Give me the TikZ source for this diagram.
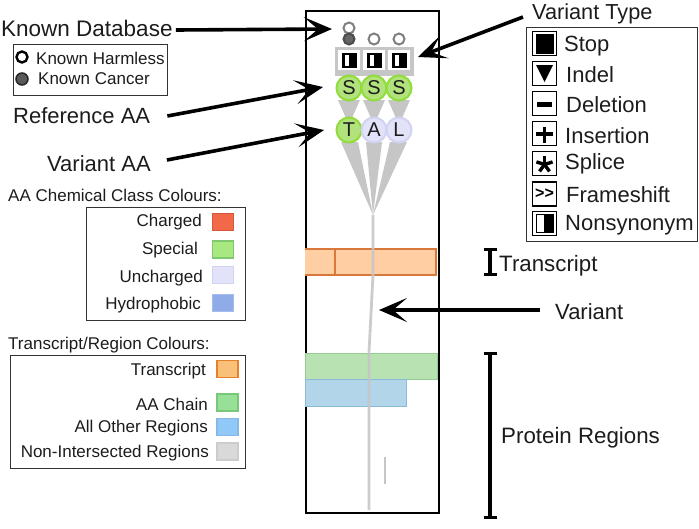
\documentclass[tikz,border=0pt]{standalone}
\usepackage{fontspec}
\setmainfont{Liberation Sans}
\usetikzlibrary{arrows.meta, positioning}

\definecolor{txt}{HTML}{1C1C1C}
\definecolor{branch}{HTML}{C6C6C6}
\definecolor{specfill}{HTML}{B2E27C}
\definecolor{specline}{HTML}{8FDC3C}
\definecolor{unchfill}{HTML}{E2E2F8}
\definecolor{unchline}{HTML}{D2D2F2}
\definecolor{transfill}{HTML}{FFCFA3}
\definecolor{transline}{HTML}{D9783A}
\definecolor{chainfill}{HTML}{B9E2B2}
\definecolor{chainline}{HTML}{94CC96}
\definecolor{regfill}{HTML}{B2D5EA}
\definecolor{regline}{HTML}{8ABAD8}
\definecolor{chargedkey}{HTML}{F2694A}
\definecolor{chargededge}{HTML}{D8583C}
\definecolor{specialkey}{HTML}{A8E880}
\definecolor{specialedge}{HTML}{80C870}
\definecolor{hydrokey}{HTML}{90ACE8}
\definecolor{hydroedge}{HTML}{A8BCEC}
\definecolor{transkey}{HTML}{F8C078}
\definecolor{transedge}{HTML}{E8802A}
\definecolor{chainkey}{HTML}{98E098}
\definecolor{chainedge}{HTML}{78C878}
\definecolor{otherkey}{HTML}{90C8F8}
\definecolor{otheredge}{HTML}{88B8E8}

\tikzset{
    big/.style={font=\fontsize{22}{24}\selectfont, text=txt, inner sep=0pt},
    mid/.style={font=\fontsize{22}{24}\selectfont, text=txt, inner sep=0pt, anchor=west},
    small/.style={font=\fontsize{17}{20}\selectfont, text=txt, inner sep=0pt},
    legendbox/.style={draw=black!80, line width=1pt},
    pointer/.style={line width=3.6pt, -{Stealth[length=28pt, width=24pt, inset=14pt]}},
    span/.style={line width=3.4pt, {Bar[width=13pt, line width=3pt]}-{Bar[width=13pt, line width=3pt]}},
    swatch/.style={minimum width=21pt, minimum height=17pt, inner sep=0pt, line width=1.2pt},
    aa/.style={circle, minimum size=25pt, inner sep=0pt, line width=2pt, font=\fontsize{20}{20}\selectfont, text=txt},
    special/.style={aa, fill=specfill, draw=specline},
    uncharged/.style={aa, fill=unchfill, draw=unchline},
    known/.style={circle, minimum size=11pt, inner sep=0pt, draw=black!50, line width=2pt, fill=white},
    typebox/.style={draw=black, line width=1.6pt, minimum size=24pt, inner sep=0pt, fill=white},
    cell/.style={fill=white, minimum width=22pt, minimum height=20pt, inner sep=0pt},
    regionbar/.style={line width=0.6pt},
}

\begin{document}
\begin{tikzpicture}[x=1pt, y=-1pt]
    \useasboundingbox (0,0) rectangle (699,528);

    % gene panel
    \node[draw=black, line width=1.6pt, minimum width=133pt, minimum height=502pt, inner sep=0pt, anchor=north west] (panel) at (305,10) {};

    % bars
    \fill[transfill] (305,249) rectangle (437,275);
    \draw[draw=transline, line width=1.6pt] (305,249) -- (436,249) -- (436,275) -- (305,275) (335,249) -- (335,275);
    \node[regionbar, fill=chainfill, draw=chainline, minimum width=132pt, minimum height=26pt, inner sep=0pt, anchor=north west] (aachain) at (305,353) {};
    \node[regionbar, fill=regfill, draw=regline, minimum width=101pt, minimum height=27pt, inner sep=0pt, anchor=north west] (otherregion) at (305,379) {};

    % branches from the variant position
    \coordinate (apex) at (373,215);
    \fill[branch] (341,142) -- (358,142) -- (apex) -- cycle;
    \fill[branch] (366,142) -- (382,142) -- (apex) -- cycle;
    \fill[branch] (390,142) -- (407,142) -- (apex) -- cycle;
    \fill[branch] (338,100) -- (360,100) -- (349,125) -- cycle;
    \fill[branch] (363,100) -- (385,100) -- (374,125) -- cycle;
    \fill[branch] (388,100) -- (410,100) -- (399,125) -- cycle;
    \draw[branch, line width=2.8pt, opacity=0.9] (apex) -- (373,275) -- (369,352) -- (369,510);
    \draw[branch, line width=2.2pt] (385,457) -- (385,484);

    % variant type row
    \fill[branch] (335,47) rectangle (414,76);
    \foreach \n/\xx in {one/349, two/374, three/399}{
        \node[cell] (cell\n) at (\xx,60) {};
        \fill[black] (\xx-7.5,53) rectangle (\xx+7.5,68);
        \fill[white] (\xx-4,55) rectangle (\xx,66);
    }

    % known database markers
    \node[known] (dbtop) at (349,28) {};
    \node[known, fill=black!60, draw=black!70] (dbone) at (349,39) {};
    \node[known] (dbtwo) at (374,39) {};
    \node[known] (dbthree) at (399,39) {};

    % amino acids
    \node[special] (refa) at (349,88) {S};
    \node[special] (refb) at (374,88) {S};
    \node[special] (refc) at (399,88) {S};
    \node[special] (vara) at (349,130) {T};
    \node[uncharged] (varb) at (374,130) {A};
    \node[uncharged] (varc) at (399,130) {L};

    % labels with pointers
    \node[big, anchor=west, font=\fontsize{22.5}{24}\selectfont] (kdb) at (1,28) {Known Database};
    \node[big, anchor=west] (refaa) at (13,116) {Reference AA};
    \node[big, anchor=west] (varaa) at (47,164) {Variant AA};
    \node[big, anchor=west, font=\fontsize{21.7}{24}\selectfont] (vartype) at (532,14) {Variant Type};
    \node[big, anchor=west] (variant) at (555,312) {Variant};
    \node[big, anchor=west, font=\fontsize{22.3}{24}\selectfont] (transcript) at (499,266) {Transcript};
    \node[big, anchor=west, font=\fontsize{22.3}{24}\selectfont] (protein) at (501,438) {Protein Regions};

    \coordinate (kdbtip) at (332,29);
    \coordinate (reftip) at (323,87);
    \coordinate (vartip) at (324,130);
    \coordinate (typetip) at (418,57);
    \coordinate (varianttip) at (379,310);

    \draw[pointer] (kdb.east) ++(3,2) -- (kdbtip);
    \draw[pointer] (refaa.east) ++(17,0) -- (reftip);
    \draw[pointer] (varaa.east) ++(16,-4) -- (vartip);
    \draw[pointer] (vartype.west) ++(-9,3) -- (typetip);
    \draw[pointer] (variant.west) ++(-15,-2) -- (varianttip);

    % spans
    \coordinate (trtop) at (490,248);
    \coordinate (trbot) at (490,276);
    \coordinate (prtop) at (490,352);
    \coordinate (prbot) at (490,519);
    \draw[span] (trtop) -- (trbot);
    \draw[span] (prtop) -- (prbot);

    % known legend
    \node[legendbox, minimum width=154pt, minimum height=51pt, inner sep=0pt, anchor=north west] (knownbox) at (13,44) {};
    \node[known, minimum size=11pt, draw=black, line width=2.4pt] (harmless) at (22,57) {};
    \node[known, minimum size=12pt, fill=black!65, draw=black!85, line width=1.5pt] (cancer) at (22,79) {};
    \node[small, anchor=west] (harmlesstxt) at (36,58) {Known Harmless};
    \node[small, anchor=west] (cancertxt) at (38,79) {Known Cancer};

    % variant type legend
    \node[draw=black!80, line width=1pt, minimum width=171pt, minimum height=214pt, inner sep=0pt, anchor=north west] (typelegend) at (526,27) {};
    \node[typebox] (stop) at (544.5,43.5) {};
    \node[typebox] (indel) at (544.5,73.5) {};
    \node[typebox] (deletion) at (544.5,103.5) {};
    \node[typebox] (insertion) at (544.5,133.5) {};
    \node[typebox] (splice) at (544.5,163.5) {};
    \node[typebox, font=\bfseries\fontsize{16}{16}\selectfont] (frameshift) at (544.5,194) {>{}>};
    \node[typebox] (nonsyn) at (544.5,223.5) {};

    \fill[black] (536,34) rectangle (553.5,53.5);
    \fill[black] (536,65) -- (553,65) -- (544.5,82) -- cycle;
    \fill[black] (537,102) rectangle (552,106.5);
    \fill[black] (536,132) rectangle (553,135.5);
    \fill[black] (542.8,127) rectangle (546.3,143);
    \coordinate (starmid) at (544.5,164.5);
    \foreach \ang in {-90,-18,54,126,198}
        \draw[black, line width=3.4pt] (starmid) -- ++(\ang:8.5);
    \fill[black] (544,214) rectangle (553,232);
    \draw[black, line width=0.8pt] (536.5,214) rectangle (553,232);

    \node[mid] (stoptxt) at (564,46) {Stop};
    \node[mid] (indeltxt) at (566,75) {Indel};
    \node[mid] (deltxt) at (566,105) {Deletion};
    \node[mid] (instxt) at (565,136) {Insertion};
    \node[mid] (splicetxt) at (565,164) {Splice};
    \node[mid] (frametxt) at (566,195) {Frameshift};
    \node[mid] (nonsyntxt) at (565,225) {Nonsynonym};

    % amino acid colour legend
    \node[small, anchor=west] (aatitle) at (8,195) {AA Chemical Class Colours:};
    \node[legendbox, minimum width=159pt, minimum height=113pt, inner sep=0pt, anchor=north west] (aalegend) at (86,207) {};
    \node[swatch, fill=chargedkey, draw=chargededge] (charged) at (223,222) {};
    \node[swatch, fill=specialkey, draw=specialedge] (special) at (223,249.5) {};
    \node[swatch, fill=unchfill, draw=unchline] (unch) at (223,275) {};
    \node[swatch, fill=hydrokey, draw=hydroedge] (hydro) at (223,303) {};
    \node[small, anchor=east] (chargedtxt) at (202,222) {Charged};
    \node[small, anchor=east] (specialtxt) at (198,250) {Special};
    \node[small, anchor=east] (unchtxt) at (203,278) {Uncharged};
    \node[small, anchor=east] (hydrotxt) at (201,305) {Hydrophobic};

    % transcript and region colour legend
    \node[small, anchor=west] (regtitle) at (8,345) {Transcript/Region Colours:};
    \node[legendbox, minimum width=235pt, minimum height=113pt, inner sep=0pt, anchor=north west] (reglegend) at (10,355) {};
    \node[swatch, fill=transkey, draw=transedge] (trswatch) at (227.5,369) {};
    \node[swatch, fill=chainkey, draw=chainedge] (chainswatch) at (227.5,402.5) {};
    \node[swatch, fill=otherkey, draw=otheredge] (otherswatch) at (227.5,427) {};
    \node[swatch, fill=black!15, draw=black!20] (noneswatch) at (227.5,451.5) {};
    \node[small, anchor=east] (trtxt) at (206,371) {Transcript};
    \node[small, anchor=east] (chaintxt) at (208,404) {AA Chain};
    \node[small, anchor=east] (othertxt) at (208,428) {All Other Regions};
    \node[small, anchor=east] (nonetxt) at (209,453) {Non-Intersected Regions};
\end{tikzpicture}
\end{document}
